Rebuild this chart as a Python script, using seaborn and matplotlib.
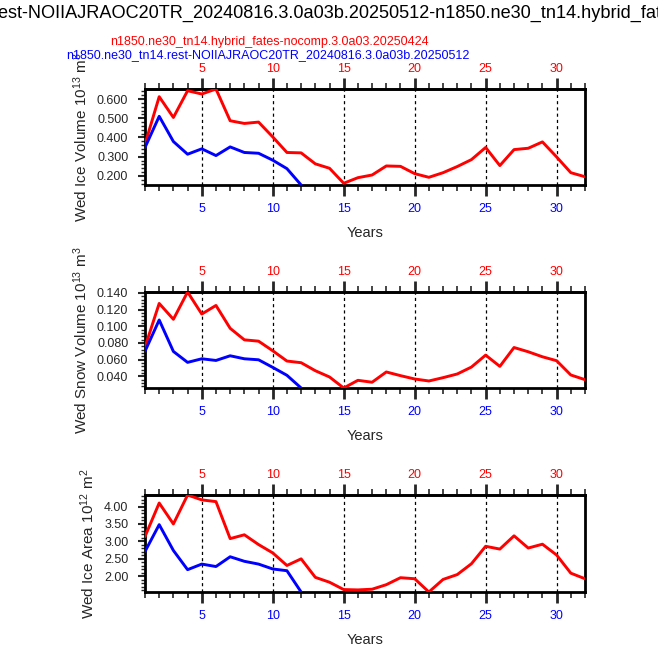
import matplotlib
matplotlib.use("Agg")
import matplotlib.pyplot as plt
import matplotlib.ticker as ticker
import numpy as np
import seaborn as sns

# ---- data ----
years_red = list(range(1, 33))
years_blue = list(range(1, 13))

vol_red = [0.365, 0.612, 0.504, 0.643, 0.626, 0.652, 0.487, 0.473, 0.480, 0.403,
           0.322, 0.320, 0.263, 0.240, 0.162, 0.191, 0.205, 0.252, 0.250, 0.212,
           0.193, 0.217, 0.249, 0.285, 0.348, 0.254, 0.337, 0.344, 0.377, 0.299,
           0.217, 0.196]
vol_blue = [0.348, 0.510, 0.379, 0.313, 0.341, 0.306, 0.351, 0.322, 0.318, 0.282,
            0.238, 0.153]

snow_red = [0.075, 0.1273, 0.1083, 0.141, 0.1146, 0.1249, 0.0975, 0.0837, 0.0821, 0.0706,
            0.0583, 0.0563, 0.0467, 0.0392, 0.026, 0.0352, 0.0329, 0.0452, 0.0408, 0.0368,
            0.0344, 0.0384, 0.0428, 0.0511, 0.0654, 0.0519, 0.0745, 0.0694, 0.0634, 0.0587,
            0.0416, 0.0360]
snow_blue = [0.070, 0.1075, 0.0698, 0.0567, 0.0610, 0.0590, 0.0646, 0.0610, 0.0598, 0.0507,
             0.0412, 0.026]

area_red = [3.14, 4.10, 3.50, 4.33, 4.19, 4.14, 3.08, 3.19, 2.91, 2.67,
            2.31, 2.50, 1.97, 1.83, 1.62, 1.61, 1.63, 1.76, 1.96, 1.93,
            1.55, 1.91, 2.05, 2.36, 2.86, 2.78, 3.16, 2.81, 2.92, 2.61,
            2.09, 1.93]
area_blue = [2.71, 3.48, 2.74, 2.19, 2.35, 2.28, 2.56, 2.43, 2.35, 2.21,
             2.16, 1.55]

ylabels = ["Wed Ice Volume 10$^{13}$ m$^{3}$",
           "Wed Snow Volume 10$^{13}$ m$^{3}$",
           "Wed Ice Area 10$^{12}$ m$^{2}$"]
yticks = [[0.2, 0.3, 0.4, 0.5, 0.6],
          [0.04, 0.06, 0.08, 0.10, 0.12, 0.14],
          [2.0, 2.5, 3.0, 3.5, 4.0]]
yminor = [0.02, 0.004, 0.1]
yfmt = ["%.3f", "%.3f", "%.2f"]
xticks = [5, 10, 15, 20, 25, 30]

title = "n1850.ne30_tn14.rest-NOIIAJRAOC20TR_20240816.3.0a03b.20250512-n1850.ne30_tn14.hybrid_fates-nocomp.3.0a03.20250424"
label_red = "n1850.ne30_tn14.hybrid_fates-nocomp.3.0a03.20250424"
label_blue = "n1850.ne30_tn14.rest-NOIIAJRAOC20TR_20240816.3.0a03b.20250512"

sns.set_style("white")
plt.rcParams["font.family"] = ["Liberation Sans", "DejaVu Sans"]
plt.rcParams["mathtext.default"] = "regular"

fig = plt.figure(figsize=(6.58, 6.47), dpi=100)

W, H = 658, 647
left, right = 145, 585
panels_px = [(89, 185), (292, 388), (495, 592)]

data = [(vol_red, vol_blue), (snow_red, snow_blue), (area_red, area_blue)]

for i, (top, bot) in enumerate(panels_px):
    ax = fig.add_axes([left / W, 1 - bot / H, (right - left) / W, (bot - top) / H])
    red, blue = data[i]
    for x in xticks:
        ax.axvline(x, color="black", lw=0.9, ls=(0, (2.5, 2.5)), zorder=1)
    sns.lineplot(x=years_red, y=red, color="red", lw=2.1, ax=ax, zorder=3)
    sns.lineplot(x=years_blue, y=blue, color="blue", lw=2.1, ax=ax, zorder=3)
    allv = red + blue
    ax.set_xlim(1, 32)
    ax.set_ylim(min(allv), max(allv))

    for s in ax.spines.values():
        s.set_linewidth(2)
        s.set_color("black")

    ax.set_yticks(yticks[i])
    ax.yaxis.set_major_formatter(ticker.FormatStrFormatter(yfmt[i]))
    ax.yaxis.set_minor_locator(ticker.MultipleLocator(yminor[i]))
    ax.tick_params(axis="y", which="major", left=True, length=5, width=1.5,
                   labelsize=9, pad=7, direction="out")
    ax.tick_params(axis="y", which="minor", left=True, length=3, width=1.0,
                   direction="out")

    ax.set_xticks(xticks)
    ax.xaxis.set_minor_locator(ticker.FixedLocator(years_red))
    ax.tick_params(axis="x", which="major", bottom=True, length=8, width=2,
                   labelsize=9, labelcolor="blue", pad=5, direction="out")
    ax.tick_params(axis="x", which="minor", bottom=True, length=4, width=1.2,
                   direction="out")

    sec = ax.secondary_xaxis("top")
    sec.set_xticks(xticks)
    sec.xaxis.set_minor_locator(ticker.FixedLocator(years_red))
    sec.tick_params(axis="x", which="major", length=8, width=2, labelsize=9,
                    labelcolor="red", pad=2, direction="out")
    sec.tick_params(axis="x", which="minor", length=4, width=1.2, direction="out")
    sec.spines["top"].set_linewidth(2)

    ax.set_xlabel("Years", fontsize=10.5, labelpad=8)
    ax.set_ylabel(ylabels[i], fontsize=11, labelpad=5)

fig.text(0.5653, 1 - 18 / H, title, ha="center", va="baseline", fontsize=13.1, color="black")
fig.text(269 / W, 1 - 45 / H, label_red, ha="center", va="baseline", fontsize=9.0, color="red")
fig.text(268 / W, 1 - 58 / H, label_blue, ha="center", va="baseline", fontsize=9.0, color="blue")

fig.savefig("out.png", dpi=100)
